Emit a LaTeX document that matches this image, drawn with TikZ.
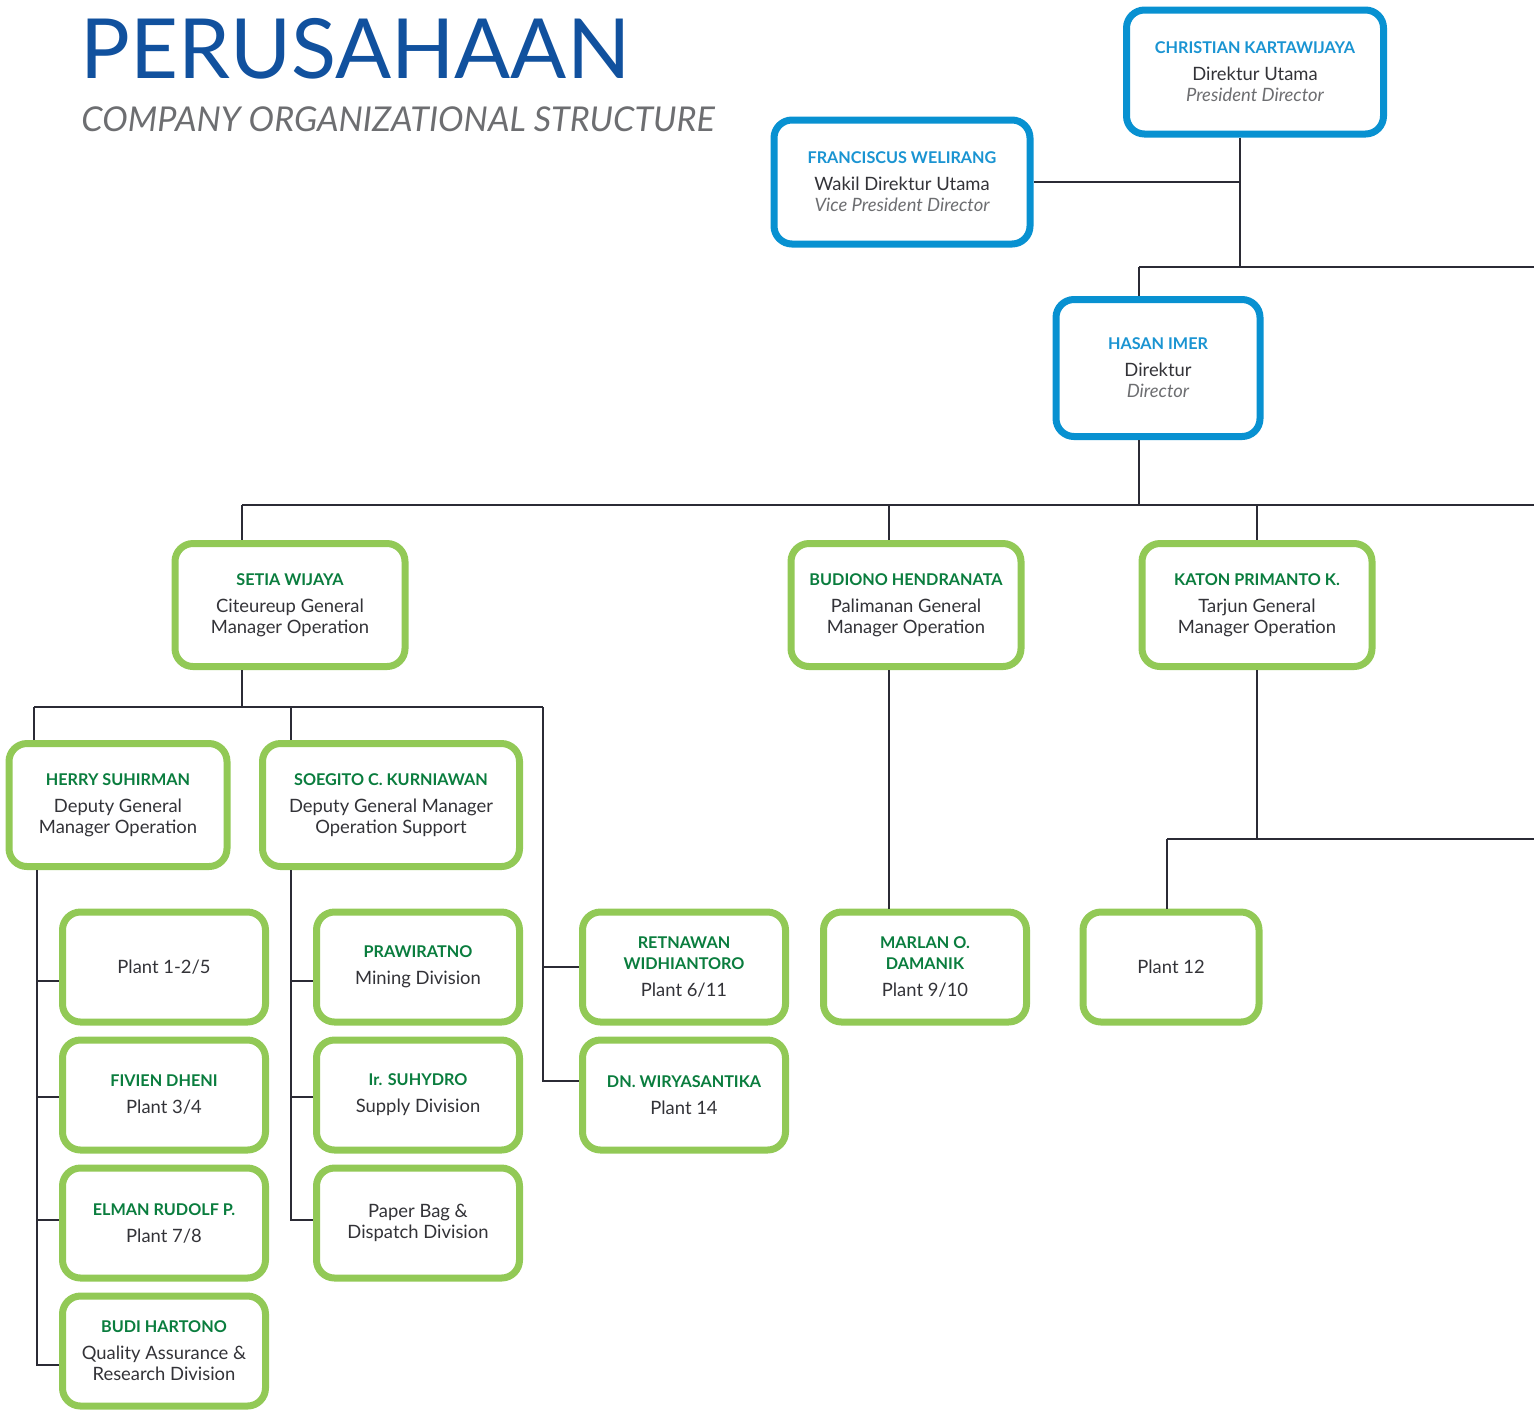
\documentclass[tikz,border=0pt]{standalone}
\usepackage{fontspec}
\setmainfont{Lato}
\usetikzlibrary{positioning}

\definecolor{ttlblue}{HTML}{11519E}
\definecolor{subgray}{HTML}{6D6E71}
\definecolor{boxblue}{HTML}{0891D1}
\definecolor{boxgreen}{HTML}{92C956}
\definecolor{nameblue}{HTML}{1A94D2}
\definecolor{namegreen}{HTML}{0A7D3E}
\definecolor{bodygray}{HTML}{333338}
\definecolor{linkgray}{HTML}{2B2B35}

\newcommand{\bn}[1]{{\color{nameblue}\fontsize{8.1}{10.5}\selectfont\bfseries #1}}
\newcommand{\gn}[1]{{\color{namegreen}\fontsize{8.1}{10.5}\selectfont\bfseries #1}}
\newcommand{\en}[1]{{\color{subgray}\itshape #1}}

\tikzset{
  box/.style={draw, line width=3.5pt, rounded corners=9pt, fill=white, align=center, inner sep=0pt,
    text=bodygray, font=\fontsize{9.2}{10.5}\selectfont},
  bluebox/.style={box, draw=boxblue},
  greenbox/.style={box, draw=boxgreen},
  bigbox/.style={greenbox, minimum width=115pt, minimum height=61.5pt},
  smallbox/.style={greenbox, minimum width=101.5pt, minimum height=55pt},
  link/.style={draw=linkgray, line width=1.4pt},
}

\begin{document}
\begin{tikzpicture}[x=0.5pt, y=-0.5pt]
\useasboundingbox (0,0) rectangle (1534,1410);

% heading
\node[anchor=base west, inner sep=0pt, text=ttlblue, font=\fontsize{41.5}{44}\selectfont] (title) at (80,78) {PERUSAHAAN};
\node[anchor=base west, inner sep=0pt, text=subgray, font=\fontsize{17.1}{20}\selectfont\itshape] (subtitle) at (81,131) {COMPANY ORGANIZATIONAL STRUCTURE};

% board
\node[bluebox, minimum width=128.5pt, minimum height=62pt] (chris) at (1255,72) {\bn{CHRISTIAN KARTAWIJAYA}\\[3pt] Direktur Utama\\ \en{President Director}};
\node[bluebox, minimum width=128pt, minimum height=62pt] (franc) at (902,182) {\bn{FRANCISCUS WELIRANG}\\[3pt] Wakil Direktur Utama\\ \en{Vice President Director}};
\node[bluebox, minimum width=102pt, minimum height=68.5pt] (hasan) at (1158,368) {\bn{HASAN IMER}\\[3pt] Direktur\\ \en{Director}};

% general managers
\node[bigbox] (setia) at (290,605) {\gn{SETIA WIJAYA}\\[3pt] Citeureup General\\ Manager Operation};
\node[bigbox] (budiono) at (906,605) {\gn{BUDIONO HENDRANATA}\\[3pt] Palimanan General\\ Manager Operation};
\node[bigbox] (katon) at (1257,605) {\gn{KATON PRIMANTO K.}\\[3pt] Tarjun General\\ Manager Operation};

% deputies
\node[greenbox, minimum width=109pt, minimum height=61.5pt] (herry) at (118,805) {\gn{HERRY SUHIRMAN}\\[3pt] Deputy General\\ Manager Operation};
\node[greenbox, minimum width=128.5pt, minimum height=61.5pt] (soegito) at (391,805) {\gn{SOEGITO C. KURNIAWAN}\\[3pt] Deputy General Manager\\ Operation Support};

% plants and divisions
\node[smallbox] (plantA) at (164,967) {Plant 1-2/5};
\node[smallbox] (fivien) at (164,1095) {\gn{FIVIEN DHENI}\\[3pt] Plant 3/4};
\node[smallbox] (elman) at (164,1223) {\gn{ELMAN RUDOLF P.}\\[3pt] Plant 7/8};
\node[smallbox] (budi) at (164,1351) {\gn{BUDI HARTONO}\\[3pt] Quality Assurance \&\\ Research Division};
\node[smallbox] (prawira) at (418,967) {\gn{PRAWIRATNO}\\[3pt] Mining Division};
\node[smallbox] (suhydro) at (418,1095) {\gn{Ir. SUHYDRO}\\[3pt] Supply Division};
\node[smallbox] (paperbag) at (418,1223) {Paper Bag \&\\ Dispatch Division};
\node[smallbox] (retnawan) at (684,967) {\gn{RETNAWAN}\\ \gn{WIDHIANTORO}\\[3pt] Plant 6/11};
\node[smallbox] (dnwirya) at (684,1095) {\gn{DN. WIRYASANTIKA}\\[3pt] Plant 14};
\node[smallbox] (marlan) at (925,967) {\gn{MARLAN O.}\\ \gn{DAMANIK}\\[3pt] Plant 9/10};
\node[greenbox, minimum width=88pt, minimum height=55pt] (plantB) at (1171,967) {Plant 12};

% junctions
\coordinate (j1) at (1240,267); \coordinate (j2) at (1139,267); \coordinate (e1) at (1534,267);
\coordinate (j3) at (242,505); \coordinate (j4) at (1139,505); \coordinate (e2) at (1534,505);
\coordinate (j5) at (889,505); \coordinate (j6) at (1257,505);
\coordinate (s1) at (242,707); \coordinate (s2) at (34,707); \coordinate (s3) at (543,707); \coordinate (s4) at (291,707);
\coordinate (k1) at (1257,839); \coordinate (k2) at (1167,839); \coordinate (e3) at (1534,839);
\coordinate (h0) at (37,870); \coordinate (g0) at (291,870); \coordinate (r0) at (543,1081);

% links
\draw[link] (chris.south -| j1) -- (j1);
\draw[link] (franc.east) -- (franc.east -| j1);
\draw[link] (j2) -- (e1);
\draw[link] (j2) -- (hasan.north -| j2);
\draw[link] (hasan.south -| j4) -- (j4);
\draw[link] (j3) -- (e2);
\draw[link] (j3) -- (setia.north -| j3);
\draw[link] (j5) -- (budiono.north -| j5);
\draw[link] (j6) -- (katon.north);
\draw[link] (setia.south -| s1) -- (s1);
\draw[link] (s2) -- (s3);
\draw[link] (s2) -- (herry.north -| s2);
\draw[link] (s4) -- (soegito.north -| s4);
\draw[link] (s3) -- (r0) -- (dnwirya.west |- r0);
\draw[link] (retnawan.west -| s3) -- (retnawan.west);
\draw[link] (budiono.south -| j5) -- (marlan.north -| j5);
\draw[link] (katon.south) -- (k1);
\draw[link] (k2) -- (e3);
\draw[link] (k2) -- (plantB.north -| k2);
\draw[link] (herry.south -| h0) |- (budi.west |- 0,1365);
\foreach \n/\y in {plantA/981, fivien/1097, elman/1220}
  {\coordinate (t) at (37,\y); \draw[link] (t) -- (\n.west |- t);}
\draw[link] (soegito.south -| g0) |- (paperbag.west |- 0,1220);
\foreach \n/\y in {prawira/981, suhydro/1097}
  {\coordinate (t) at (291,\y); \draw[link] (t) -- (\n.west |- t);}
\end{tikzpicture}
\end{document}
